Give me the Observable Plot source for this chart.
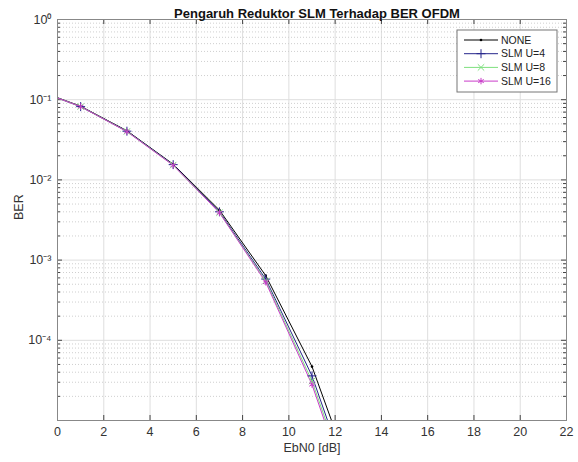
<!DOCTYPE html>
<html><head><meta charset="utf-8">
<script src="https://cdn.jsdelivr.net/npm/d3@7"></script>
<script src="https://cdn.jsdelivr.net/npm/@observablehq/plot@0.6"></script>
<style>
body{margin:0;background:#fff}
svg{font-family:"Liberation Sans",Arial,sans-serif}
</style>
</head><body><div id="chart"></div>
<script>
// ---- data ----
const ebn0 = [0, 1, 3, 5, 7, 9, 11, 13];
const berNone = [0.106, 0.083, 0.041, 0.0157, 0.0042, 6.4e-4, 4.7e-5, 1.2e-6];
const berU4   = [0.105, 0.082, 0.0405, 0.0155, 0.0040, 5.8e-4, 3.6e-5, 8e-7];
const berU8   = [0.105, 0.082, 0.0402, 0.0153, 0.0039, 5.5e-4, 3.1e-5, 7e-7];
const berU16  = [0.105, 0.082, 0.0400, 0.0152, 0.0039, 5.3e-4, 2.8e-5, 6e-7];
const seriesNames = ["NONE", "SLM U=4", "SLM U=8", "SLM U=16"];
const seriesColors = ["#000000", "#26268c", "#7ee07e", "#c93cc9"];
const seriesSymbols = ["circle", "plus", "times", "asterisk"];
const xTicks = [0, 2, 4, 6, 8, 10, 12, 14, 16, 18, 20, 22];
const yTicks = [1, 0.1, 0.01, 0.001, 0.0001];
const yTickLabels = ["10⁰", "10⁻¹", "10⁻²", "10⁻³", "10⁻⁴"];
const titleText = "Pengaruh Reduktor SLM Terhadap BER OFDM";
const xLabel = "EbN0 [dB]";
const yLabel = "BER";

const allSeries = [berNone, berU4, berU8, berU16];
const rows = [];
allSeries.forEach((arr, s) => arr.forEach((v, i) => rows.push({x: ebn0[i], y: v, series: seriesNames[s]})));
const yMinor = [];
for (let e = -5; e < 0; e++) for (let m = 2; m <= 9; m++) yMinor.push(m * Math.pow(10, e));

const W = 578, H = 462, mT = 19, mL = 57, mR = 12, mB = 42;
const pw = W - mL - mR, ph = H - mT - mB;
const gridC = "#dedede";

const marks = [
  Plot.gridX(xTicks, {stroke: gridC, strokeOpacity: 1}),
  Plot.ruleY(yMinor, {stroke: "#cfcfcf", strokeDasharray: "1,2"}),
  Plot.gridY(yTicks, {stroke: gridC, strokeOpacity: 1}),
  // inward ticks
  Plot.ruleX(xTicks, {insetTop: ph - 5, stroke: "#444"}),
  Plot.ruleX(xTicks, {insetBottom: ph - 5, stroke: "#444"}),
  Plot.ruleY(yTicks, {insetRight: pw - 5, stroke: "#444"}),
  Plot.ruleY(yTicks, {insetLeft: pw - 5, stroke: "#444"}),
  Plot.ruleY(yMinor, {insetRight: pw - 3, stroke: "#444"}),
  Plot.ruleY(yMinor, {insetLeft: pw - 3, stroke: "#444"}),
  Plot.axisX(xTicks, {tickSize: 0, tickPadding: 7, fontSize: 12.5, fill: "#333", label: null}),
  Plot.axisY(yTicks, {tickSize: 0, tickPadding: 6, fontSize: 12.5, fill: "#333", label: null,
    tickFormat: d => yTickLabels[yTicks.indexOf(d)]}),
  Plot.line(rows, {x: "x", y: "y", z: "series", stroke: "series", strokeWidth: 1, clip: true}),
];
seriesNames.forEach((name, s) => {
  const pts = rows.filter(d => d.series === name && d.x > 0);
  if (s === 0) marks.push(Plot.dot(pts, {x: "x", y: "y", r: 1.3, fill: seriesColors[s], clip: true}));
  else marks.push(Plot.dot(pts, {x: "x", y: "y", r: 3, symbol: seriesSymbols[s], stroke: seriesColors[s], strokeWidth: 1, clip: true}));
});
marks.push(
  Plot.frame({stroke: "#888"}),
  Plot.text([titleText], {frameAnchor: "top", dy: -11, dx: 5, fontWeight: "bold", fontSize: 13, fill: "#111"}),
  Plot.text([xLabel], {frameAnchor: "bottom", dy: 31, fontSize: 12.5, fill: "#333"}),
  Plot.text([yLabel], {frameAnchor: "left", dx: -39, rotate: -90, fontSize: 12.5, fill: "#333"})
);

const chart = Plot.plot({
  width: W, height: H, marginTop: mT, marginLeft: mL, marginRight: mR, marginBottom: mB,
  style: {fontFamily: "Liberation Sans, Arial, sans-serif", background: "#fff"},
  x: {domain: [0, 22]},
  y: {type: "log", domain: [1e-5, 1]},
  color: {domain: seriesNames, range: seriesColors},
  marks
});
document.getElementById("chart").appendChild(chart);

// ---- legend ----
const svg = d3.select(chart);
const lg = svg.append("g").attr("transform", "translate(457,30)");
lg.append("rect").attr("width", 100).attr("height", 62).attr("fill", "#fff").attr("stroke", "#777");
seriesNames.forEach((name, s) => {
  const yy = 10 + s * 13.7;
  lg.append("line").attr("x1", 7).attr("x2", 41).attr("y1", yy).attr("y2", yy)
    .attr("stroke", seriesColors[s]).attr("stroke-width", 1);
  if (s === 0) {
    lg.append("circle").attr("cx", 24).attr("cy", yy).attr("r", 1.3).attr("fill", seriesColors[s]);
  } else {
    const sym = [null, d3.symbolPlus, d3.symbolTimes, d3.symbolAsterisk][s];
    lg.append("path").attr("d", d3.symbol(sym, 3 * 3 * Math.PI)()).attr("transform", `translate(24,${yy})`)
      .attr("fill", "none").attr("stroke", seriesColors[s]);
  }
  lg.append("text").attr("x", 44).attr("y", yy).attr("dy", "0.35em").attr("font-size", 10.5)
    .attr("text-anchor", "start").attr("fill", "#222").text(name);
});
</script>
</body></html>
